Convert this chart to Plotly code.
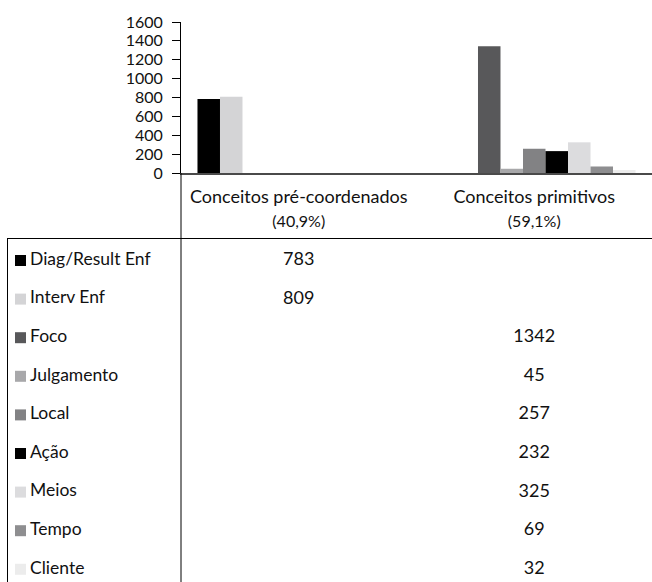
import plotly.graph_objects as go

categories = ["Conceitos pré-coordenados<br><span style='font-size:16px'>(40,9%)</span>",
              "Conceitos primitivos<br><span style='font-size:16px'>(59,1%)</span>"]
series_names = ["Diag/Result Enf", "Interv Enf", "Foco", "Julgamento", "Local",
                "Ação", "Meios", "Tempo", "Cliente"]
series_cat = [0, 0, 1, 1, 1, 1, 1, 1, 1]  # which category each series belongs to
series_values = [783, 809, 1342, 45, 257, 232, 325, 69, 32]
series_colors = ["#000000", "#d4d4d6", "#58585a", "#a8a8aa", "#828284",
                 "#000000", "#dcdcde", "#8e8e90", "#ececec"]
y_ticks = [0, 200, 400, 600, 800, 1000, 1200, 1400, 1600]

W, H = 652, 582
FONT = "Lato"

fig = go.Figure()

# Bars (grouped, 9 slots per category)
for name, cat, val, col in zip(series_names, series_cat, series_values, series_colors):
    yv = [None, None]
    yv[cat] = val
    fig.add_trace(go.Bar(x=categories, y=yv, name=name, marker_color=col,
                         marker_line_width=0, xaxis="x", yaxis="y", showlegend=False))

# Table values
fig.add_trace(go.Scatter(
    x=[categories[c] for c in series_cat], y=series_names, mode="text",
    text=[str(v) for v in series_values], textposition="middle center",
    textfont=dict(family=FONT, size=18, color="#111"),
    xaxis="x", yaxis="y2", showlegend=False, hoverinfo="skip"))

# Legend column: markers and labels
fig.add_trace(go.Scatter(
    x=[20.5] * len(series_names), y=series_names, mode="markers",
    marker=dict(symbol="square", size=11, color=series_colors, line_width=0),
    xaxis="x2", yaxis="y2", showlegend=False, hoverinfo="skip"))
fig.add_trace(go.Scatter(
    x=[30] * len(series_names), y=series_names, mode="text",
    text=series_names, textposition="middle right",
    textfont=dict(family=FONT, size=17.5, color="#111"),
    xaxis="x2", yaxis="y2", showlegend=False, hoverinfo="skip"))

x0 = 181 / W
ytop = 1 - 22 / H
ybot = 1 - 173 / H
tbl_top = 1 - 238.5 / H

row_top = -(260.5 - 238.5) / 38.6
row_span = (H - 238.5) / 38.6

fig.update_layout(
    width=W, height=H, autosize=False,
    margin=dict(l=0, r=0, t=0, b=0, pad=0, autoexpand=False),
    paper_bgcolor="white", plot_bgcolor="white",
    barmode="group", bargap=0.14, bargroupgap=0,
    font=dict(family=FONT, size=17, color="#111"),
    xaxis=dict(domain=[x0, 1], anchor="y", type="category", automargin=False,
               showline=True, linecolor="#4a4a4a", linewidth=1.5,
               ticks="", showgrid=False, zeroline=False,
               tickfont=dict(family=FONT, size=18, color="#111"),
               ticklabelstandoff=7, fixedrange=True),
    yaxis=dict(domain=[ybot, ytop], anchor="x", range=[0, 1600], automargin=False,
               tickvals=y_ticks, showline=True, linecolor="#000", linewidth=1,
               ticks="outside", ticklen=8, tickcolor="#000", tickwidth=1,
               showgrid=False, zeroline=False, fixedrange=True,
               tickfont=dict(family=FONT, size=16, color="#111"),
               ticklabelstandoff=6),
    yaxis2=dict(domain=[0, tbl_top], anchor="x", type="category", automargin=False,
                categoryorder="array", categoryarray=series_names,
                range=[row_top + row_span, row_top], fixedrange=True,
                showticklabels=False, showline=False, showgrid=False,
                zeroline=False, ticks=""),
    xaxis2=dict(domain=[0, x0], anchor="y2", range=[0, 181], automargin=False,
                showticklabels=False, showline=False, showgrid=False,
                zeroline=False, ticks="", fixedrange=True),
)

# Table frame lines
fig.add_shape(type="line", xref="paper", yref="paper",
              x0=x0, x1=x0, y0=0, y1=ybot, line=dict(color="#000", width=1))
fig.add_shape(type="line", xref="paper", yref="paper",
              x0=7 / W, x1=1, y0=tbl_top, y1=tbl_top, line=dict(color="#000", width=1))
fig.add_shape(type="line", xref="paper", yref="paper",
              x0=7.5 / W, x1=7.5 / W, y0=0, y1=tbl_top, line=dict(color="#000", width=1))

fig.write_html("out.html", config={"displayModeBar": False},
               post_script="document.body.style.margin='0';document.body.style.padding='0';")
